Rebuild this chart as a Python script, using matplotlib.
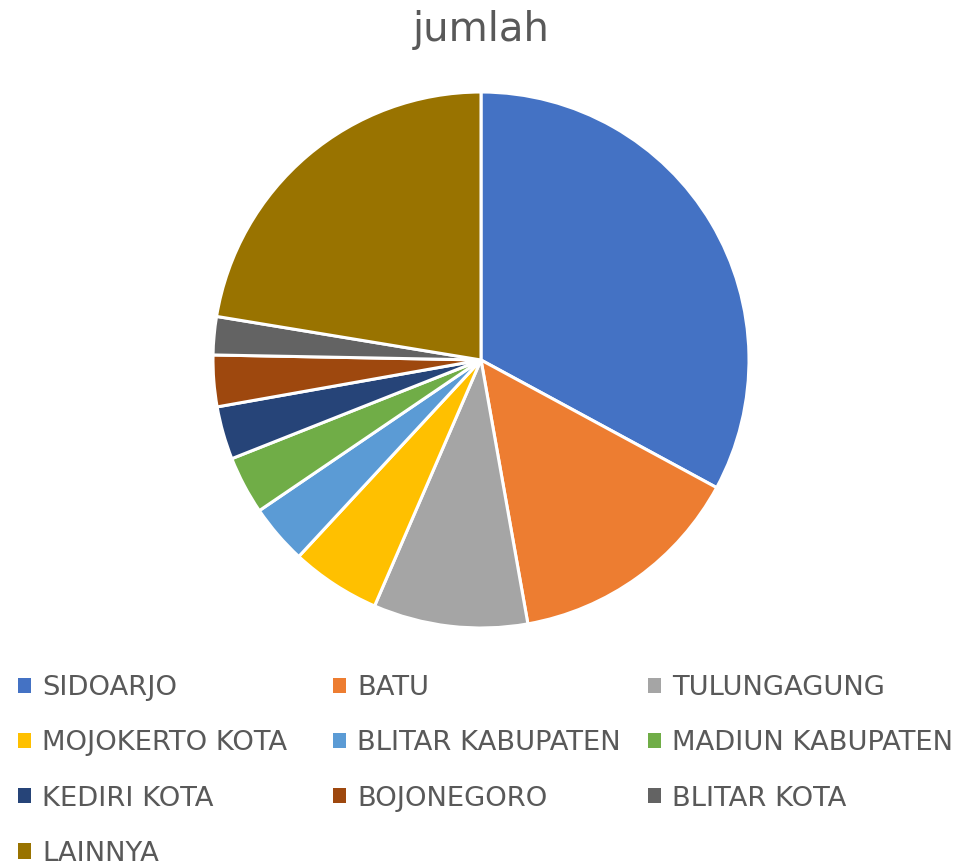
import matplotlib.pyplot as plt
from matplotlib.patches import Patch

# jumlah per daerah (estimated shares, %)
labels = ['SIDOARJO', 'BATU', 'TULUNGAGUNG', 'MOJOKERTO KOTA', 'BLITAR KABUPATEN',
          'MADIUN KABUPATEN', 'KEDIRI KOTA', 'BOJONEGORO', 'BLITAR KOTA', 'LAINNYA']
values = [32.9, 14.3, 9.3, 5.4, 3.6, 3.5, 3.2, 3.1, 2.3, 22.4]
colors = ['#4472C4', '#ED7D31', '#A5A5A5', '#FFC000', '#5B9BD5',
          '#70AD47', '#264478', '#9E480E', '#636363', '#997300']

W, H = 959, 863
fig = plt.figure(figsize=(W / 100, H / 100), dpi=100)

cx, cy, r = 481, 360, 268
ax = fig.add_axes([(cx - r) / W, (H - cy - r) / H, 2 * r / W, 2 * r / H])
ax.pie(values, colors=colors, startangle=90, counterclock=False,
       wedgeprops=dict(edgecolor='white', linewidth=2.2))
ax.set_aspect('equal')
ax.set_xlim(-1, 1)
ax.set_ylim(-1, 1)

fig.text(481 / W, 1 - 30 / H, 'jumlah', ha='center', va='center',
         fontsize=29, color='#595959')

# legend laid out row by row in 3 equal columns, like Excel
fs = 19.7
col_x = [18, 333, 648]
for c in range(3):
    idx = list(range(c, len(labels), 3))
    handles = [Patch(facecolor=colors[i], label=labels[i]) for i in idx]
    fig.legend(handles=handles, loc='upper left',
               bbox_to_anchor=(col_x[c] / W, 1 - 675 / H),
               frameon=False, fontsize=fs, labelcolor='#595959',
               handlelength=0.48, handleheight=0.48, handletextpad=0.41,
               labelspacing=1.07, borderpad=0, borderaxespad=0)

fig.savefig('out.png', dpi=100)
